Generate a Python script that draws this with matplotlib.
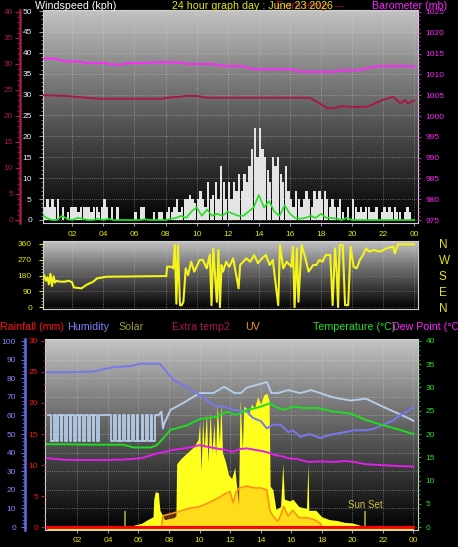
import numpy as np
import matplotlib
matplotlib.use('Agg')
import matplotlib.pyplot as plt
from matplotlib.colors import LinearSegmentedColormap
from matplotlib.ticker import MultipleLocator

plt.rcParams['font.family'] = ['Liberation Sans', 'DejaVu Sans']

# ---------------- data ----------------
hour_ticks = [2, 4, 6, 8, 10, 12, 14, 16, 18, 20, 22, 24]
hour_labels = ['02', '04', '06', '08', '10', '12', '14', '16', '18', '20', '22', '00']

# wind gusts, 10 minute samples (kph)
gust_kph = [7, 3, 5, 3, 5, 3,   5, 0, 3, 0, 2, 3,   3, 3, 2, 3, 3, 3,   3, 2, 3, 3, 2, 3,
            5, 3, 0, 3, 0, 3,   0, 0, 0, 0, 0, 0,   2, 0, 3, 3, 0, 0,   0, 2, 0, 2, 2, 0,
            2, 3, 2, 3, 5, 2,   3, 5, 5, 6, 5, 4,   5, 7, 5, 3, 9, 5,   6, 9, 5, 13, 9, 5,
            9, 5, 9, 7, 11, 7,  11, 9, 13, 17, 22, 15,  22, 17, 15, 12, 9, 15,  13, 15, 11, 9, 13, 7,
            5, 3, 7, 5, 3, 5,   7, 5, 3, 7, 5, 7,   5, 7, 5, 3, 5, 3,   3, 5, 2, 0, 3, 0,
            5, 3, 2, 3, 2, 3,   3, 2, 2, 3, 0, 2,   3, 2, 3, 2, 3, 2,   2, 0, 2, 3, 2, 0]
gust_hours = np.arange(len(gust_kph)) / 6.0

# average wind, 20 minute samples (kph)
avg_kph = [1.5, 0.5, 0, 0, 1, 0.3, 0, 0.5, 0.3, 0, 0, 0.3, 0, 0.3, 0, 0, 0, 0,
           0, 0, 0.2, 0, 0, 0, 0, 0.3, 0.5, 1, 0.5, 2, 3, 1, 2.5, 1, 1.5, 1,
           2, 1.5, 1, 1, 2, 3, 6, 3, 4.5, 2, 1, 3.5, 1.5, 0.5, 0.3, 0.5, 1, 0.5,
           1.5, 0.5, 0.5, 0.3, 0, 0.5, 0, 0, 0, 0, 0, 0, 0, 0, 0, 0, 0, 0, 0]
avg_hours = np.arange(len(avg_kph)) / 3.0

baro_hours = [0.15, 0.8, 1.65, 2.5, 2.9, 4.2, 4.4, 5.3, 5.5, 6.8, 7.0, 8.9, 9.4, 11.1, 11.7,
              13.0, 13.65, 16.2, 16.7, 18.8, 19.2, 20.5, 21.0, 21.6, 23.7, 24.0]
baro_mb = [1013.8, 1013.8, 1013.1, 1013.1, 1012.7, 1012.7, 1012.4, 1012.4, 1012.7, 1012.7,
           1012.9, 1012.9, 1012.5, 1012.5, 1012.0, 1012.0, 1011.2, 1011.2, 1010.6, 1010.6,
           1011.0, 1011.0, 1011.5, 1012.0, 1012.0, 1011.8]

xt_hours = [0.15, 1.0, 1.65, 2.9, 3.8, 7.7, 8.1, 9.4, 10.0, 10.7, 17.3, 18.4, 18.8, 19.4,
            20.1, 21.0, 22.0, 22.65, 23.1, 23.4, 23.6, 24.0]
xt_temp = [24.0, 23.9, 23.85, 23.5, 23.3, 23.3, 23.5, 23.85, 23.85, 23.5, 23.5, 21.5, 21.5,
           21.9, 21.7, 21.8, 23.1, 23.7, 22.4, 23.1, 22.4, 23.0]

dir_hours = [0.2, 0.3, 0.4, 0.5, 0.6, 0.7, 0.8, 0.9, 1.0, 1.2, 1.5, 1.8, 2.0, 2.1, 2.6, 2.9,
             3.35, 3.6, 4.2, 8.05, 8.1, 8.4, 8.5, 8.6, 8.7, 8.8, 8.93, 9.04, 9.15, 9.3, 9.45,
             9.65, 9.85, 10.05, 10.2, 10.4, 10.65, 10.85, 10.96, 11.07, 11.3, 11.4, 11.5, 11.6,
             11.7, 11.9, 12.1, 12.35, 12.7, 12.8, 13.2, 13.45, 13.7, 13.95, 14.2, 14.45, 14.7,
             14.9, 15.25, 15.36, 15.57, 15.8, 16.1, 16.2, 16.3, 16.45, 16.55, 16.75, 17.0, 17.2,
             17.35, 17.5, 17.7, 17.9, 18.1, 18.3, 18.6, 18.75, 18.9, 19.0, 19.1, 19.2, 19.4,
             19.55, 19.75, 19.9, 20.1, 20.3, 20.5, 20.7, 20.9, 21.1, 21.4, 21.8, 22.2, 22.65,
             22.75, 22.95, 24.0]
dir_deg = [180, 150, 170, 130, 190, 120, 175, 140, 150, 145, 145, 150, 140, 112, 107, 126,
           145, 164, 173, 177, 230, 230, 221, 354, 19, 354, 10, 11, 30, 221, 183,
           259, 202, 240, 269, 269, 221, 300, 11, 335, 30, 326, 0, 240,
           202, 259, 230, 278, 107, 240, 278, 259, 297, 250, 278, 297, 240,
           269, 11, 354, 221, 259, 230, 345, 0, 335, 30, 354, 278, 202,
           221, 240, 240, 269, 259, 297, 297, 11, 335, 221, 0, 354, 354,
           11, 11, 345, 230, 221, 269, 297, 335, 316, 326, 316, 335, 345,
           307, 358, 358]
compass = ['N', 'E', 'S', 'W', 'N']

hum_hours = [0.0, 1.5, 3.0, 3.5, 4.4, 5.6, 6.1, 7.4, 8.3, 9.0, 10.0, 10.5, 11.1, 11.6, 12.2,
             13.1, 13.5, 14.0, 14.4, 14.8, 15.3, 15.8, 16.1, 16.6, 17.2, 17.9, 18.3, 18.8,
             19.5, 20.1, 20.9, 21.5, 22.0, 22.6, 23.1, 23.6, 24.0]
hum_pct = [83.2, 83.2, 83.5, 84.4, 86, 86.6, 87.8, 87.8, 79, 76, 71, 68, 64.7, 65, 63,
           62, 58.6, 57, 53, 55, 55, 51, 52, 48.5, 50, 47.8, 49, 50,
           51, 52, 52, 53, 55, 57, 60, 62, 64.7]

# second humidity trace: flickering part (night) then smooth part (day)
xh_night_hours = [0.1, 0.2, 0.3, 0.45, 0.6, 0.7, 0.9, 1.0, 1.2, 1.3, 1.5, 1.6, 1.8, 1.9, 2.1,
                  2.2, 2.4, 2.5, 2.7, 2.8, 3.0, 3.1, 3.3, 3.4, 3.6, 3.8, 4.0, 4.2, 4.4, 4.5,
                  4.7, 4.8, 5.0, 5.1, 5.3, 5.4, 5.6, 5.7, 5.9, 6.0, 6.2, 6.3, 6.5, 6.6, 6.8,
                  6.9, 7.1, 7.3]
xh_night_pct = [60, 60, 46, 60, 46, 60, 46, 60, 46, 60, 46, 60, 46, 60, 46,
                60, 46, 60, 46, 60, 46, 60, 46, 60, 60, 60, 60, 46, 60, 46,
                60, 46, 60, 46, 60, 46, 60, 46, 60, 46, 60, 46, 60, 46, 60,
                46, 60, 60]
xh_day_hours = [7.3, 7.5, 7.6, 7.7, 8.1, 9.0, 10.0, 10.9, 11.6, 12.3, 12.7, 13.1, 14.0, 14.4,
                14.7, 15.1, 15.8, 16.6, 17.3, 17.9, 18.6, 19.2, 19.9, 20.9, 22.0, 23.0, 23.8,
                24.0]
xh_day_pct = [60, 62, 53, 56, 63, 67, 72, 72, 75.4, 72, 72, 75, 77, 78,
              72, 72, 73.6, 72, 73.6, 72, 70, 69, 68, 69, 64.7, 61, 58, 57]

temp_hours = [0.0, 1.0, 3.0, 5.0, 5.7, 6.8, 7.2, 7.6, 8.1, 8.6, 9.2, 10.0, 10.5, 11.1, 11.8,
              12.4, 13.1, 13.6, 14.0, 14.6, 15.0, 15.5, 16.1, 16.8, 17.7, 18.8, 19.9, 20.9,
              22.0, 23.1, 24.0]
temp_c = [17.8, 17.8, 17.7, 17.7, 17.1, 17.1, 17.6, 19.0, 20.9, 21.3, 21.9, 23.2, 23.4, 23.7,
          24.8, 24.1, 25.2, 25.5, 25.9, 26.6, 25.8, 25.2, 25.9, 25.6, 25.6, 24.8, 24.4, 23.0,
          21.9, 20.9, 20.0]

dew_hours = [0.0, 1.0, 2.0, 3.5, 5.0, 6.2, 7.2, 8.3, 9.2, 10.0, 10.6, 11.1, 11.6, 12.2, 12.7,
             13.1, 13.6, 14.0, 14.5, 14.9, 15.4, 15.8, 16.4, 17.1, 17.9, 18.8, 19.5, 20.1,
             20.9, 22.0, 23.1, 24.0]
dew_c = [14.8, 14.5, 14.4, 14.4, 14.5, 14.8, 15.8, 16.6, 17.0, 17.6, 17.2, 16.9, 16.6, 16.2,
         16.8, 16.9, 16.6, 16.4, 16.0, 15.5, 15.2, 14.8, 14.6, 14.0, 14.1, 14.0, 14.2, 14.0,
         13.5, 13.3, 13.1, 13.0]

sol_hours = [0.0, 5.4, 5.7, 6.2, 6.6, 6.95, 7.0, 7.1, 7.3, 7.4, 7.5, 7.7, 8.0, 8.3, 8.45, 8.5,
             8.8, 9.2, 9.6, 9.9, 10.0, 10.1, 10.2, 10.3, 10.45, 10.55, 10.7, 10.8, 10.95,
             11.05, 11.15, 11.3, 11.4, 11.5, 11.7, 11.9, 12.1, 12.3, 12.45, 12.55, 12.65,
             12.8, 12.9, 13.05, 13.2, 13.4, 13.6, 13.8, 14.0, 14.2, 14.4, 14.55, 14.62, 14.8,
             15.0, 15.3, 15.45, 15.55, 15.9, 16.1, 16.5, 17.0, 17.1, 17.15, 17.6, 18.0, 18.5,
             19.0, 19.5, 20.0, 20.5, 20.8, 24.0]
sol_wm2 = [0, 0, 10, 20, 40, 55, 150, 190, 185, 90, 75, 40, 45, 50, 60, 340,
           370, 400, 430, 470, 560, 300, 580, 420, 610, 350, 620, 400, 560,
           380, 660, 450, 670, 400, 350, 280, 260, 320, 200, 120, 690,
           420, 650, 640, 600, 660, 640, 700, 660, 710, 720, 680, 220, 200,
           95, 110, 340, 150, 140, 150, 110, 100, 345, 90, 90, 55, 40,
           35, 25, 22, 10, 0, 0]

uv_hours = [7.5, 7.6, 8.5, 9.3, 10.0, 10.6, 11.3, 11.7, 12.0, 12.2, 12.4, 12.6, 13.1, 13.6,
            14.0, 14.4, 14.6, 14.8, 15.1, 15.3, 15.5, 15.8, 16.1, 16.5, 17.0, 17.5, 17.9, 18.0]
uv_idx = [0, 0.6, 0.8, 1.0, 1.1, 1.3, 1.6, 1.8, 1.9, 1.3, 1.9, 2.1, 2.2, 2.1,
          2.1, 2.0, 0.9, 0.6, 0.3, 0.6, 1.1, 0.6, 0.9, 0.5, 0.5, 0.4, 0.2, 0]

rain_hours = [0, 24]
rain_mm = [0, 0]

sun_hours = [5.12, 20.84]

# ---------------- figure ----------------
W, H = 458, 547
fig = plt.figure(figsize=(W / 100, H / 100), dpi=100, facecolor='black')


def panel(l, t, r, b):
    return fig.add_axes([l / W, 1 - b / H, (r - l) / W, (b - t) / H])


def shade(ax):
    cmap = LinearSegmentedColormap.from_list('bg', ['#000000', '#3c3c3c', '#7a7a7a', '#c4c4c4'])
    ax.imshow(np.linspace(0, 1, 256).reshape(-1, 1), cmap=cmap, origin='lower',
              extent=[0, 1, 0, 1], transform=ax.transAxes, aspect='auto', zorder=0)
    for s in ax.spines.values():
        s.set_color('#d0d0d0')
        s.set_linewidth(0.8)


def hide_spines(ax):
    for s in ax.spines.values():
        s.set_visible(False)


def header(x, y, s, color):
    fig.text(x / W, 1 - y / H, s, color=color, fontsize=7.7, va='center', ha='left')


yellow = '#e6e600'
crimson = '#a8184a'
grid_kw = dict(color='#d8d8d8', ls=':', lw=0.6, alpha=0.55)

# ---- top: wind speed / barometer ----
ax_w = panel(43, 10, 418, 223)
shade(ax_w)
ax_w.bar(gust_hours, gust_kph, width=0.15, align='edge', color='#e4e4e4', zorder=2)
ax_w.plot(avg_hours, avg_kph, color='#22e022', lw=1.2, zorder=3)
ax_w.set_xlim(0.12, 24.24)
ax_w.set_ylim(-0.72, 50.24)
ax_w.yaxis.set_major_locator(MultipleLocator(5))
ax_w.yaxis.set_minor_locator(MultipleLocator(1))
ax_w.tick_params(axis='y', which='major', colors='#9a9a9a', labelcolor='#e8eeff',
                 labelsize=6, length=3, pad=5)
ax_w.tick_params(axis='y', which='minor', colors='#9a9a9a', length=1.5)
ax_w.set_xticks(hour_ticks, hour_labels)
ax_w.tick_params(axis='x', colors='#9a9a9a', labelcolor=yellow, labelsize=6, length=2.5, pad=3)
ax_w.grid(**grid_kw)

ax_xt = ax_w.twinx()
hide_spines(ax_xt)
ax_xt.plot(xt_hours, xt_temp, color=crimson, lw=1.4)
ax_xt.set_ylim(-0.58, 40.38)
ax_xt.yaxis.tick_left()
ax_xt.spines['left'].set_visible(True)
ax_xt.spines['left'].set_position(('axes', (20 - 43) / 375))
ax_xt.spines['left'].set_color(crimson)
ax_xt.spines['left'].set_linewidth(1.8)
ax_xt.yaxis.set_major_locator(MultipleLocator(5))
ax_xt.yaxis.set_minor_locator(MultipleLocator(1))
ax_xt.tick_params(axis='y', which='major', colors=crimson, labelsize=6, length=3.5, pad=1.5)
ax_xt.tick_params(axis='y', which='minor', colors=crimson, length=2)

ax_p = ax_w.twinx()
hide_spines(ax_p)
ax_p.plot(baro_hours, baro_mb, color='#ff28ff', lw=1.4)
ax_p.set_ylim(974.28, 1025.48)
ax_p.yaxis.set_major_locator(MultipleLocator(5))
ax_p.yaxis.set_minor_locator(MultipleLocator(1))
ax_p.tick_params(axis='y', which='major', colors='#c020c0', labelcolor='#ff20ff',
                 labelsize=6, length=2.5, pad=3)
ax_p.tick_params(axis='y', which='minor', colors='#c020c0', length=1.5)

header(35, 6, 'Windspeed (kph)', 'white')
header(276, 6, 'Extra temp. ---', crimson)
header(172, 6, '24 hour graph day : June 23 2026', yellow)
header(372, 6, 'Barometer (mb)', '#ff20ff')

# ---- middle: wind direction ----
ax_d = panel(43, 241, 418, 309)
shade(ax_d)
ax_d.plot(dir_hours, dir_deg, color='#f4f41c', lw=1.5, zorder=3)
ax_d.set_xlim(0.12, 24.24)
ax_d.set_ylim(-11, 377)
ax_d.set_yticks([0, 90, 180, 270, 360])
ax_d.yaxis.set_minor_locator(MultipleLocator(18))
ax_d.tick_params(axis='y', which='major', colors=yellow, labelsize=6, length=3, pad=5)
ax_d.tick_params(axis='y', which='minor', colors='#b0b000', length=1.5)
ax_d.set_xticks(hour_ticks)
ax_d.tick_params(axis='x', length=0, labelbottom=False)
ax_d.grid(axis='x', **grid_kw)
ax_d.grid(axis='y', color='#c080a0', ls=':', lw=0.6, alpha=0.6)

ax_c = ax_d.twinx()
hide_spines(ax_c)
ax_c.set_ylim(-11, 377)
ax_c.set_yticks([0, 90, 180, 270, 360], compass)
ax_c.tick_params(axis='y', colors=yellow, labelsize=8.5, length=0, pad=15)

# ---- bottom: temperature / humidity / solar ----
ax_s = panel(45, 339, 418, 530)
shade(ax_s)
ax_s.fill_between(sol_hours, sol_wm2, -16, color='#ffff1e', lw=0, zorder=2)
ax_s.vlines(sun_hours, 0, 86, color='#a8a830', lw=1.2, zorder=3)
ax_s.text(sun_hours[1], 92, 'Sun Set', color='#c8c040', fontsize=7, ha='center', va='bottom', zorder=4)
ax_s.set_xlim(-0.12, 24.3)
ax_s.set_ylim(-16, 1011)
ax_s.set_yticks(np.arange(0, 1001, 100))
ax_s.tick_params(axis='y', length=0, labelleft=False)
ax_s.set_xticks(hour_ticks, hour_labels)
ax_s.tick_params(axis='x', colors='#9a9a9a', labelcolor=yellow, labelsize=6, length=2.5, pad=2.5)
ax_s.grid(**grid_kw)

ax_uv = ax_s.twinx()
ax_uv.axis('off')
ax_uv.fill_between(uv_hours, uv_idx, 0, color='#ff8c10', alpha=0.3, lw=0)
ax_uv.plot(uv_hours, uv_idx, color='#ff9018', lw=1.2)
ax_uv.set_ylim(-0.161, 10.108)

ax_r = ax_s.twinx()
hide_spines(ax_r)
ax_r.plot(rain_hours, rain_mm, color='#ff0000', lw=2.2)
ax_r.set_ylim(-0.48, 30.32)
ax_r.yaxis.tick_left()
ax_r.yaxis.set_major_locator(MultipleLocator(5))
ax_r.yaxis.set_minor_locator(MultipleLocator(1))
ax_r.tick_params(axis='y', which='major', colors=crimson, labelcolor='#ff1010',
                 labelsize=6, length=3, pad=2)
ax_r.tick_params(axis='y', which='minor', colors=crimson, length=1.5)

ax_h = ax_s.twinx()
hide_spines(ax_h)
ax_h.plot(xh_night_hours, xh_night_pct, color='#b4cce8', lw=1.3, drawstyle='steps-post')
ax_h.plot(xh_day_hours, xh_day_pct, color='#b4cce8', lw=1.4)
ax_h.plot(hum_hours, hum_pct, color='#7878ee', lw=1.4)
ax_h.set_ylim(-1.61, 101.08)
ax_h.yaxis.tick_left()
ax_h.spines['left'].set_visible(True)
ax_h.spines['left'].set_position(('axes', (25 - 45) / 373))
ax_h.spines['left'].set_color('#6a6ae6')
ax_h.spines['left'].set_linewidth(1.8)
ax_h.yaxis.set_major_locator(MultipleLocator(10))
ax_h.yaxis.set_minor_locator(MultipleLocator(2))
ax_h.tick_params(axis='y', which='major', colors='#6a6ae6', labelcolor='#8484ff',
                 labelsize=6, length=3, pad=3.5)
ax_h.tick_params(axis='y', which='minor', colors='#6a6ae6', length=2)

ax_t = ax_s.twinx()
hide_spines(ax_t)
ax_t.plot(temp_hours, temp_c, color='#20dc20', lw=1.4)
ax_t.plot(dew_hours, dew_c, color='#e020e8', lw=1.4)
ax_t.set_ylim(-0.645, 40.43)
ax_t.yaxis.set_major_locator(MultipleLocator(5))
ax_t.yaxis.set_minor_locator(MultipleLocator(1))
ax_t.tick_params(axis='y', which='major', colors='#18b018', labelcolor='#20e020',
                 labelsize=6, length=2.5, pad=3)
ax_t.tick_params(axis='y', which='minor', colors='#18b018', length=1.5)

header(0, 327, 'Rainfall (mm)', '#ff1010')
header(67, 327, 'Humidity', '#8080ff')
header(118, 327, 'Solar', '#a0a030')
header(172, 327, 'Extra temp2', crimson)
header(245, 327, 'UV', '#ff9020')
header(313, 327, 'Temperature (°C)', '#20e020')
header(392, 327, 'Dew Point (°C)', '#ff20ff')

fig.savefig('out.png', dpi=100, facecolor='black')
